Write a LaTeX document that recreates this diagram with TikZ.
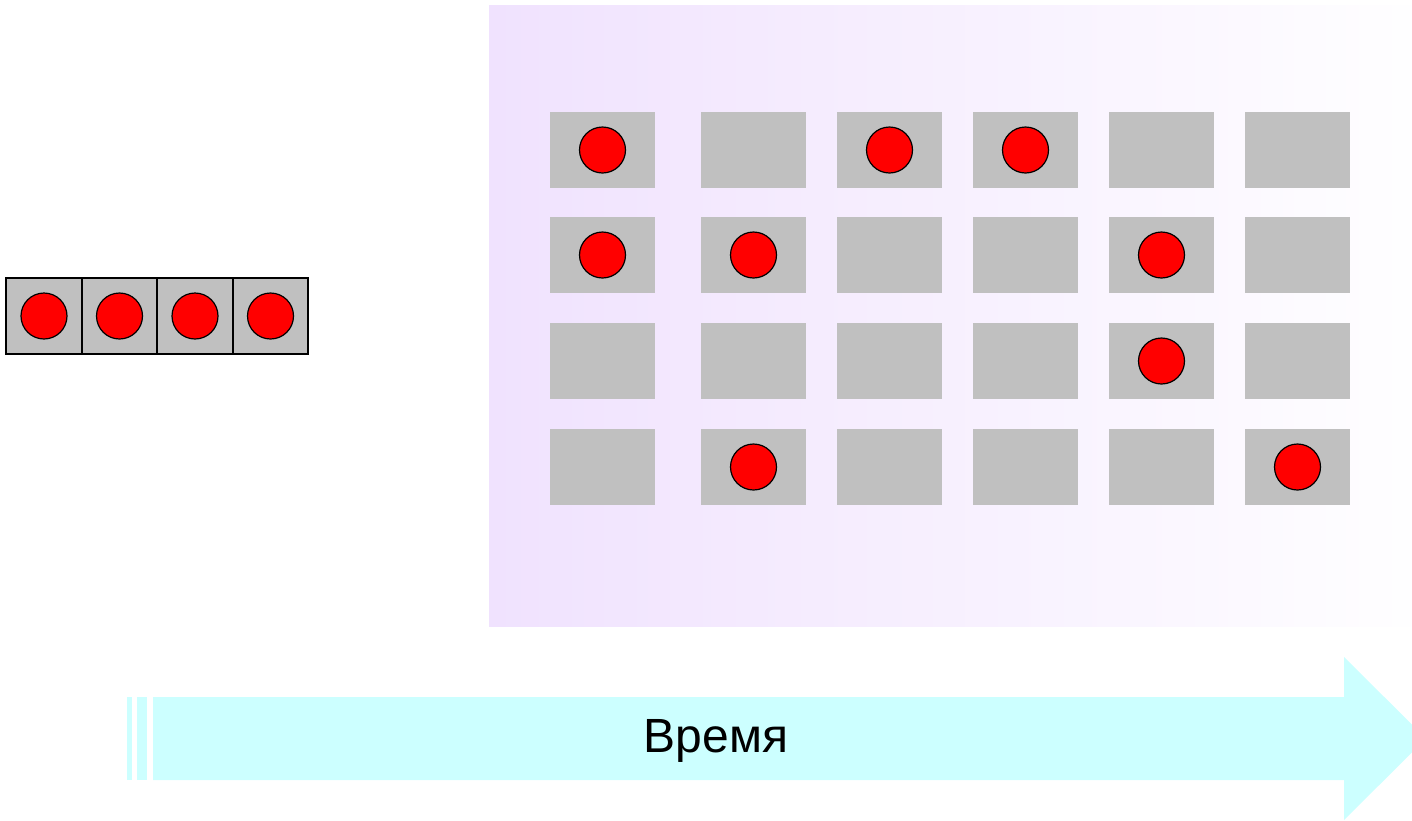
\documentclass[tikz,border=0pt]{standalone}
\usepackage{fontspec}
\setmainfont{Liberation Sans}
\usetikzlibrary{calc}
\definecolor{cellgray}{RGB}{192,192,192}
\definecolor{lavender}{RGB}{240,226,254}
\definecolor{timecyan}{RGB}{204,255,255}
\tikzset{
  cell/.style={fill=cellgray,draw=none,minimum width=52.5pt,minimum height=38pt,inner sep=0pt},
  slot/.style={fill=cellgray,draw=black,line width=0.8pt,minimum width=37.75pt,minimum height=37.75pt,inner sep=0pt},
  dot/.style={circle,fill=red,draw=black,line width=0.6pt,minimum size=23pt,inner sep=0pt},
  timeband/.style={fill=timecyan,draw=none}
}

\begin{document}
\begin{tikzpicture}[x=0.5pt,y=-0.5pt]
    \useasboundingbox (0,0) rectangle (1412,820);
    % storage panel
    \shade[left color=lavender,right color=white!70!lavender!10] (489,5) rectangle (1412,626);
    % grid of cells
    \foreach \r/\y in {1/150,2/255,3/361,4/467}
      \foreach \c/\x in {1/602.5,2/753.5,3/889.5,4/1025.5,5/1161.5,6/1297.5}
        \node[cell] (c-\r-\c) at (\x,\y) {};
    \foreach \r/\c in {1/1,1/3,1/4,2/1,2/2,2/5,3/5,4/2,4/6}
      \node[dot] (d-\r-\c) at (c-\r-\c) {};
    % the queue on the left
    \foreach \i/\x in {1/44,2/119.5,3/195,4/270.5}
    {
      \node[slot] (s-\i) at (\x,316) {};
      \node[dot] (q-\i) at (s-\i) {};
    }
    % time arrow
    \fill[timeband] (127,697) rectangle (132,780);
    \fill[timeband] (137,697) rectangle (147,780);
    \fill[timeband] (153,697) -- (1344,697) -- (1344,657) -- (1426,738.5)
      -- (1344,820) -- (1344,780) -- (153,780) -- cycle;
    \node[font=\fontsize{24}{29}\selectfont] (time) at (716,740.5) {Время};
  \end{tikzpicture}
\end{document}
